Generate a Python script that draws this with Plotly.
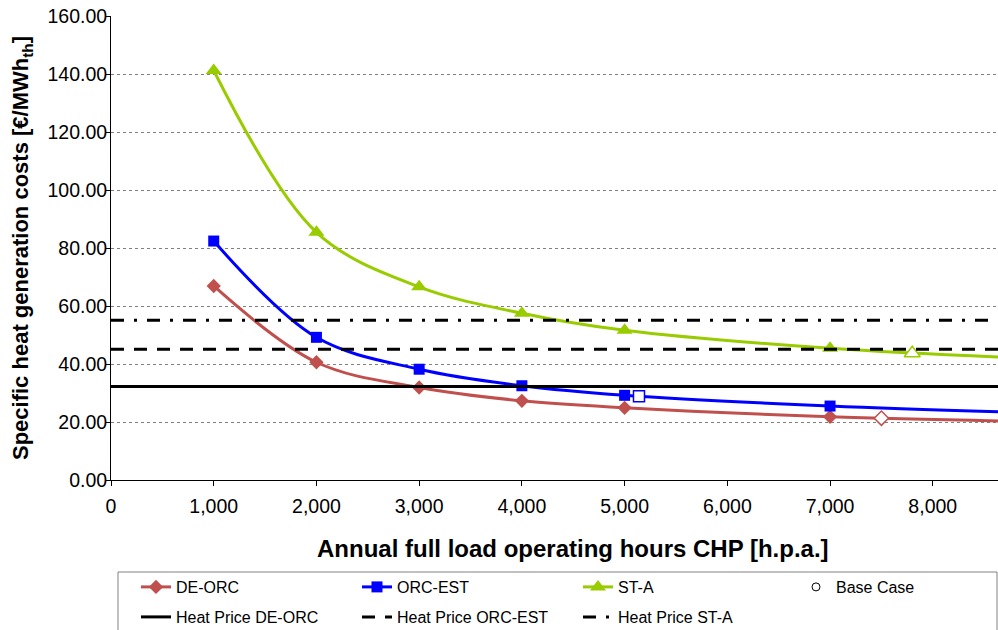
import plotly.graph_objects as go

# ---- data ----
hours = [1000, 2000, 3000, 4000, 5000, 7000, 8760]
de_orc = [66.9, 40.6, 31.9, 27.3, 24.9, 21.8, 20.3]
orc_est = [82.4, 49.2, 38.2, 32.5, 29.2, 25.5, 23.4]
st_a = [141.2, 85.4, 66.6, 57.5, 51.6, 45.4, 42.2]

base_names = ["DE-ORC", "ORC-EST", "ST-A"]
base_hours = [7500, 5140, 7800]
base_values = [21.3, 28.9, 43.7]

price_names = ["Heat Price DE-ORC", "Heat Price ORC-EST", "Heat Price ST-A"]
price_values = [32.2, 45.1, 55.1]

x_ticks = [0, 1000, 2000, 3000, 4000, 5000, 6000, 7000, 8000]
y_ticks = [0, 20, 40, 60, 80, 100, 120, 140, 160]
x_max = 8635

x_title = "<b>Annual full load operating hours CHP [h.p.a.]</b>"
y_title = "<b>Specific heat generation costs [€/MWh<sub>th</sub>]</b>"

# ---- styles ----
FONT = "Liberation Sans, Arial, sans-serif"
red = "#C0504D"
blue = "#0000FF"
green = "#99CC00"

fig = go.Figure()

series = [
    ("DE-ORC", de_orc, red, "diamond", 11),
    ("ORC-EST", orc_est, blue, "square", 11),
    ("ST-A", st_a, green, "triangle-up", 14),
]
for name, vals, col, sym, sz in series:
    fig.add_trace(go.Scatter(
        x=hours, y=vals, name=name, mode="lines+markers",
        line=dict(color=col, width=3, shape="spline", smoothing=1.0),
        marker=dict(symbol=sym, size=sz, color=col),
        legend="legend",
    ))

fig.add_trace(go.Scatter(
    x=[None], y=[None], name="Base Case", mode="markers",
    marker=dict(symbol="circle-open", size=8, color="black", line=dict(width=1)),
    legend="legend3",
))

base_styles = [(red, "diamond", 11), (blue, "square", 11), (green, "triangle-up", 14)]
for (col, sym, sz), bx, by, bn in zip(base_styles, base_hours, base_values, base_names):
    fig.add_trace(go.Scatter(
        x=[bx], y=[by], mode="markers", showlegend=False, name="Base Case " + bn,
        marker=dict(symbol=sym, size=sz, color="white", line=dict(color=col, width=1.5)),
    ))

dashes = ["solid", "13px,10px", "13px,10px,3px,10px"]
for name, val, d in zip(price_names, price_values, dashes):
    fig.add_trace(go.Scatter(
        x=[0, x_max], y=[val, val], name=name, mode="lines",
        line=dict(color="black", width=3, dash=d),
        legend="legend2",
    ))

leg_common = dict(
    orientation="h", xref="container", yref="container",
    xanchor="left", yanchor="top",
    entrywidth=176, entrywidthmode="pixels",
    font=dict(size=16, family=FONT), bgcolor="rgba(0,0,0,0)",
)

fig.update_layout(
    width=998, height=630,
    margin=dict(l=111, r=0, t=16, b=150),
    paper_bgcolor="white", plot_bgcolor="white",
    font=dict(family=FONT, color="black"),
    legend=dict(leg_common, x=136 / 998, y=(630 - 570) / 630),
    legend2=dict(leg_common, x=136 / 998, y=(630 - 600) / 630),
    legend3=dict(leg_common, x=796 / 998, y=(630 - 570) / 630),
    shapes=[dict(
        type="rect", xref="paper", yref="paper",
        x0=(118 - 111) / 887, x1=(997 - 111) / 887,
        y0=(480 - 572) / 464, y1=(480 - 660) / 464,
        line=dict(color="#808080", width=1), fillcolor="rgba(0,0,0,0)",
        layer="below",
    )],
    annotations=[dict(
        text=x_title, xref="paper", yref="paper",
        x=(573 - 111) / 887, y=(480 - 548) / 464,
        xanchor="center", yanchor="middle", showarrow=False,
        font=dict(size=24, family=FONT, color="black"),
    )],
)

fig.update_xaxes(
    range=[0, x_max], tickvals=x_ticks, tickformat=",d",
    showgrid=False, zeroline=False,
    showline=True, linecolor="black", linewidth=1,
    ticks="outside", ticklen=5, tickcolor="black",
    tickfont=dict(size=19.5, family=FONT), ticklabelstandoff=4,
    automargin=False,
)
fig.update_yaxes(
    range=[0, 160], tickvals=y_ticks, tickformat=".2f",
    showgrid=True, gridcolor="#808080", griddash="dot", gridwidth=1,
    zeroline=False,
    showline=True, linecolor="black", linewidth=1,
    ticks="outside", ticklen=4, tickcolor="black",
    tickfont=dict(size=19.5, family=FONT), ticklabelstandoff=-5,
    title=dict(text=y_title, font=dict(size=22, family=FONT), standoff=12),
    automargin=False,
)

fig.write_html("out.html")
